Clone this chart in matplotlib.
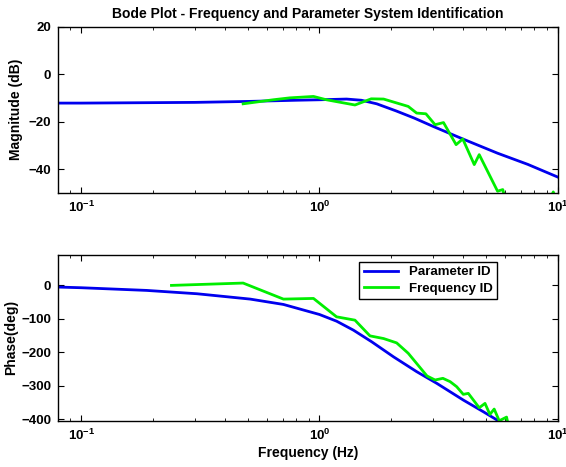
import numpy as np
import matplotlib
matplotlib.use('Agg')
import matplotlib.pyplot as plt

# Bode plot: parameter-identified model vs. frequency-identified data

# magnitude, parameter ID (blue)
par_mag_freq = [0.08, 0.1, 0.3, 0.5, 0.8, 1.0, 1.3, 1.5, 1.74, 2.1, 2.5, 3.0, 4.0, 5.6, 7.5, 10.0]
par_mag_db = [-12.2, -12.2, -11.9, -11.5, -11.0, -10.8, -10.5, -11.0, -12.5, -15.5, -18.5, -22.0,
              -27.3, -33.3, -38.0, -43.3]

# magnitude, frequency ID (green)
frq_mag_freq = [0.478, 0.64, 0.75, 0.944, 1.07, 1.41, 1.65, 1.86, 2.36, 2.56, 2.80, 3.06, 3.32,
                3.75, 4.0, 4.47, 4.69, 5.6, 5.89, 6.3, 7.5, 8.8, 9.6, 10.0]
frq_mag_db = [-12.5, -10.8, -10.0, -9.4, -10.8, -13.0, -10.4, -10.5, -13.6, -16.4, -16.7, -21.3,
              -20.4, -29.7, -27.3, -38.1, -33.9, -49.3, -48.6, -60.0, -62.0, -58.0, -49.6, -55.0]

# phase, parameter ID (blue)
par_ph_freq = [0.08, 0.1, 0.188, 0.306, 0.512, 0.706, 1.0, 1.18, 1.39, 1.66, 2.05, 2.56, 3.11,
               4.02, 4.88, 5.64, 6.0]
par_ph_deg = [-5, -7, -15, -25, -41, -57, -87, -107, -134, -169, -214, -258, -293, -343, -378,
              -405, -425]

# phase, frequency ID (green)
frq_ph_freq = [0.239, 0.478, 0.706, 0.944, 1.18, 1.41, 1.63, 1.86, 2.11, 2.36, 2.83, 3.06, 3.30,
               3.54, 3.77, 4.02, 4.22, 4.69, 4.96, 5.20, 5.42, 5.69, 6.11, 6.2]
frq_ph_deg = [0, 7, -41, -39, -94, -104, -151, -159, -172, -203, -271, -283, -278, -288, -303,
              -326, -323, -366, -353, -386, -370, -405, -394, -415]

plt.rcParams['font.family'] = ['Liberation Sans', 'DejaVu Sans']
plt.rcParams['font.weight'] = 'bold'
plt.rcParams['axes.labelweight'] = 'bold'
plt.rcParams['axes.titleweight'] = 'bold'
plt.rcParams['mathtext.fontset'] = 'custom'
plt.rcParams['mathtext.rm'] = 'Liberation Sans:bold'
plt.rcParams['mathtext.it'] = 'Liberation Sans:bold'
plt.rcParams['mathtext.bf'] = 'Liberation Sans:bold'
plt.rcParams['mathtext.default'] = 'rm'

fs = 9.5
fig = plt.figure(figsize=(5.66, 4.67), dpi=100)
ax1 = fig.add_axes([0.103, 0.587, 0.882, 0.356])
ax2 = fig.add_axes([0.103, 0.099, 0.882, 0.355])

ax1.semilogx(par_mag_freq, par_mag_db, color='#0000ee', lw=2)
ax1.semilogx(frq_mag_freq, frq_mag_db, color='#00ee00', lw=2)
ax1.set_xlim(0.08, 10)
ax1.set_ylim(-50, 20)
ax1.set_yticks([-40, -20, 0, 20])
ax1.set_ylabel('Magnitude (dB)', fontsize=fs + 0.5, labelpad=4)
ax1.set_title('Bode Plot - Frequency and Parameter System Identification', fontsize=fs + 0.5, pad=6)

ax2.semilogx(par_ph_freq, par_ph_deg, color='#0000ee', lw=2, label='Parameter ID')
ax2.semilogx(frq_ph_freq, frq_ph_deg, color='#00ee00', lw=2, label='Frequency ID')
ax2.set_xlim(0.08, 10)
ax2.set_ylim(-405, 91)
ax2.set_yticks([-400, -300, -200, -100, 0])
ax2.set_ylabel('Phase(deg)', fontsize=fs + 0.5, labelpad=2)
ax2.set_xlabel('Frequency (Hz)', fontsize=fs + 0.5, labelpad=2)
leg = ax2.legend(loc='upper right', bbox_to_anchor=(0.879, 0.96), fontsize=fs,
                 fancybox=False, framealpha=1, edgecolor='black', borderaxespad=0,
                 handlelength=2.6, borderpad=0.35, labelspacing=0.3)
leg.get_frame().set_linewidth(1.0)

for ax in (ax1, ax2):
    ax.tick_params(which='both', direction='in', top=True, right=True, labelsize=fs, pad=5)
    ax.tick_params(which='major', length=4)
    ax.tick_params(which='minor', length=2.5)
    for s in ax.spines.values():
        s.set_linewidth(1.0)

fig.savefig('out.png', dpi=100)
